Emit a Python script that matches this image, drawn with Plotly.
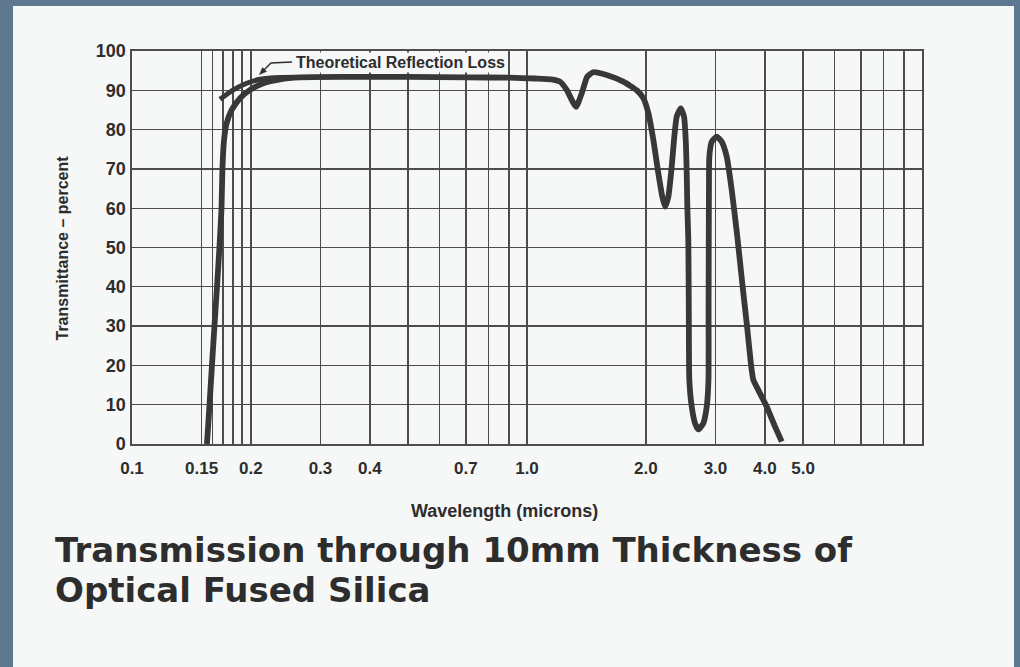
import plotly.graph_objects as go

# ---------------- data ----------------
wavelength_um = [
    0.1548, 0.1571, 0.1594, 0.1617, 0.1641, 0.1665, 0.1685, 0.1694, 0.1709, 0.1736,
    0.1788, 0.1877, 0.1990, 0.2150, 0.2370, 0.2662, 0.35, 0.5, 0.7, 0.9,
    1.05, 1.15, 1.2119, 1.2603, 1.3305, 1.3755, 1.4212, 1.4717, 1.5915, 1.7530,
    1.8958, 1.9702, 2.0285, 2.0885, 2.1502, 2.2009, 2.2358, 2.2792, 2.3248, 2.3562,
    2.3936, 2.4500, 2.4976, 2.5225, 2.5372, 2.5461, 2.5610, 2.5680, 2.5760, 2.6123,
    2.6630, 2.7148, 2.7951, 2.8511, 2.8800, 2.8820, 2.8850, 2.8880, 2.8946, 2.9354,
    3.0222, 3.1117, 3.2037, 3.2985, 3.4080, 3.5150, 3.6064, 3.6915, 3.7413, 3.8519,
    4.0454, 4.2459, 4.4151,
]
transmittance_pct = [
    0.0, 9.9, 20.1, 30.0, 39.9, 50.1, 60.0, 70.0, 77.1, 81.6,
    85.0, 88.0, 90.1, 91.8, 92.8, 93.3, 93.4, 93.4, 93.3, 93.2,
    93.0, 92.8, 92.2, 90.1, 85.8, 89.2, 93.5, 94.6, 93.9, 92.2,
    90.0, 88.0, 84.2, 77.4, 68.9, 62.9, 60.4, 62.9, 70.6, 77.4,
    83.3, 85.4, 83.3, 77.4, 68.9, 60.4, 51.9, 35.0, 16.3, 9.5,
    5.3, 3.7, 5.3, 9.5, 16.3, 35.0, 52.0, 64.6, 73.1, 76.9,
    78.2, 76.9, 73.1, 64.6, 52.7, 40.0, 30.0, 20.1, 16.3, 13.7,
    9.5, 4.4, 0.6,
]

reflection_wavelength_um = [0.1670, 0.1805, 0.1952, 0.2109, 0.2279, 0.2620]
reflection_pct = [87.7, 90.1, 91.8, 92.8, 93.2, 93.3]

x_grid_values = [0.1, 0.15, 0.16, 0.17, 0.18, 0.19, 0.2, 0.3, 0.4, 0.5, 0.6, 0.7,
                 0.8, 0.9, 1.0, 2.0, 3.0, 4.0, 5.0, 6.0, 7.0, 8.0, 9.0, 10.0]
x_labelled = {0.1: "0.1", 0.15: "0.15", 0.2: "0.2", 0.3: "0.3", 0.4: "0.4",
              0.7: "0.7", 1.0: "1.0", 2.0: "2.0", 3.0: "3.0", 4.0: "4.0", 5.0: "5.0"}
y_tick_values = [0, 10, 20, 30, 40, 50, 60, 70, 80, 90, 100]

title_lines = ["Transmission through 10mm Thickness of", "Optical Fused Silica"]
x_title = "Wavelength (microns)"
y_title = "Transmittance \u2013 percent"
note_text = "Theoretical Reflection Loss"

# ---------------- geometry helpers ----------------
W, H = 1020, 667
L, R, T, B = 132, 98, 51, 223
PW, PH = W - L - R, H - T - B


def px(xp):
    return (xp - L) / PW


def py(yp):
    return (H - B - yp) / PH


PAGE = "#f6f7f7"
BORDER = "#5e7891"
INK = "#2d2d2d"
CURVE = "#383838"
GRID = "#4d4d4d"

fig = go.Figure()

fig.add_trace(go.Scatter(
    x=wavelength_um, y=transmittance_pct, mode="lines",
    line=dict(color=CURVE, width=5.8, shape="spline", smoothing=0.5),
    hoverinfo="skip", showlegend=False,
))
fig.add_trace(go.Scatter(
    x=reflection_wavelength_um, y=reflection_pct, mode="lines",
    line=dict(color=CURVE, width=5, shape="spline", smoothing=0.6),
    hoverinfo="skip", showlegend=False,
))

tick_font = dict(family="Liberation Sans, Arial, sans-serif", size=17, color=INK, weight="bold")
ytick_font = dict(family="Liberation Sans, Arial, sans-serif", size=18, color=INK, weight="bold")

fig.update_xaxes(
    type="log", range=[-1, 1],
    tickmode="array", tickvals=x_grid_values,
    ticktext=[x_labelled.get(v, "") for v in x_grid_values],
    showgrid=True, gridcolor=GRID, gridwidth=1.4,
    showline=True, linecolor=GRID, linewidth=1.6, mirror=True,
    ticks="", ticklabelstandoff=8, tickfont=tick_font, zeroline=False,
)
fig.update_yaxes(
    range=[0, 100], tickmode="array", tickvals=y_tick_values,
    showgrid=True, gridcolor=GRID, gridwidth=1.4,
    showline=True, linecolor=GRID, linewidth=1.6, mirror=True,
    ticks="", ticklabelstandoff=1, tickfont=ytick_font, zeroline=False,
)

shapes = [
    # the scanned page
    dict(type="rect", xref="paper", yref="paper",
         x0=px(13), x1=px(1014), y0=py(H + 5), y1=py(6),
         fillcolor=PAGE, line=dict(width=0), layer="below"),
    # leader line of the note
    dict(type="path", xref="paper", yref="paper",
         path=f"M {px(292)},{py(62)} L {px(271)},{py(63)} L {px(263)},{py(71)}",
         line=dict(color=INK, width=1.4)),
    # arrow head
    dict(type="path", xref="paper", yref="paper",
         path=(f"M {px(259.5)},{py(74.5)} L {px(266.5)},{py(71.5)} "
               f"L {px(262.5)},{py(67.5)} Z"),
         fillcolor=INK, line=dict(color=INK, width=0.5)),
]

annotations = [
    dict(text=note_text, xref="paper", yref="paper", x=px(400), y=py(62.8),
         xanchor="center", yanchor="middle", showarrow=False, bgcolor=PAGE,
         font=dict(family="Liberation Sans, Arial, sans-serif", size=16, color=INK, weight="bold")),
    dict(text=x_title, xref="paper", yref="paper", x=px(504), y=py(511),
         xanchor="center", yanchor="middle", showarrow=False,
         font=dict(family="Liberation Sans, Arial, sans-serif", size=18, color=INK, weight="bold")),
    dict(text=y_title, xref="paper", yref="paper", x=px(62), y=py(248.5),
         xanchor="center", yanchor="middle", showarrow=False, textangle=-90,
         font=dict(family="Liberation Sans, Arial, sans-serif", size=16, color=INK, weight="bold")),
    dict(text=title_lines[0], xref="paper", yref="paper", x=px(53), y=py(550),
         xanchor="left", yanchor="middle", showarrow=False,
         font=dict(family="DejaVu Sans, sans-serif", size=34, color=INK, weight="bold")),
    dict(text=title_lines[1], xref="paper", yref="paper", x=px(53), y=py(590),
         xanchor="left", yanchor="middle", showarrow=False,
         font=dict(family="DejaVu Sans, sans-serif", size=34, color=INK, weight="bold")),
]

fig.update_layout(
    width=W, height=H,
    margin=dict(l=L, r=R, t=T, b=B, pad=0),
    paper_bgcolor=BORDER, plot_bgcolor=PAGE,
    shapes=shapes, annotations=annotations,
    showlegend=False,
)

fig.write_html(
    "out.html",
    config={"displayModeBar": False, "staticPlot": True},
    post_script="document.body.style.margin='0px';document.body.style.overflow='hidden';",
)
